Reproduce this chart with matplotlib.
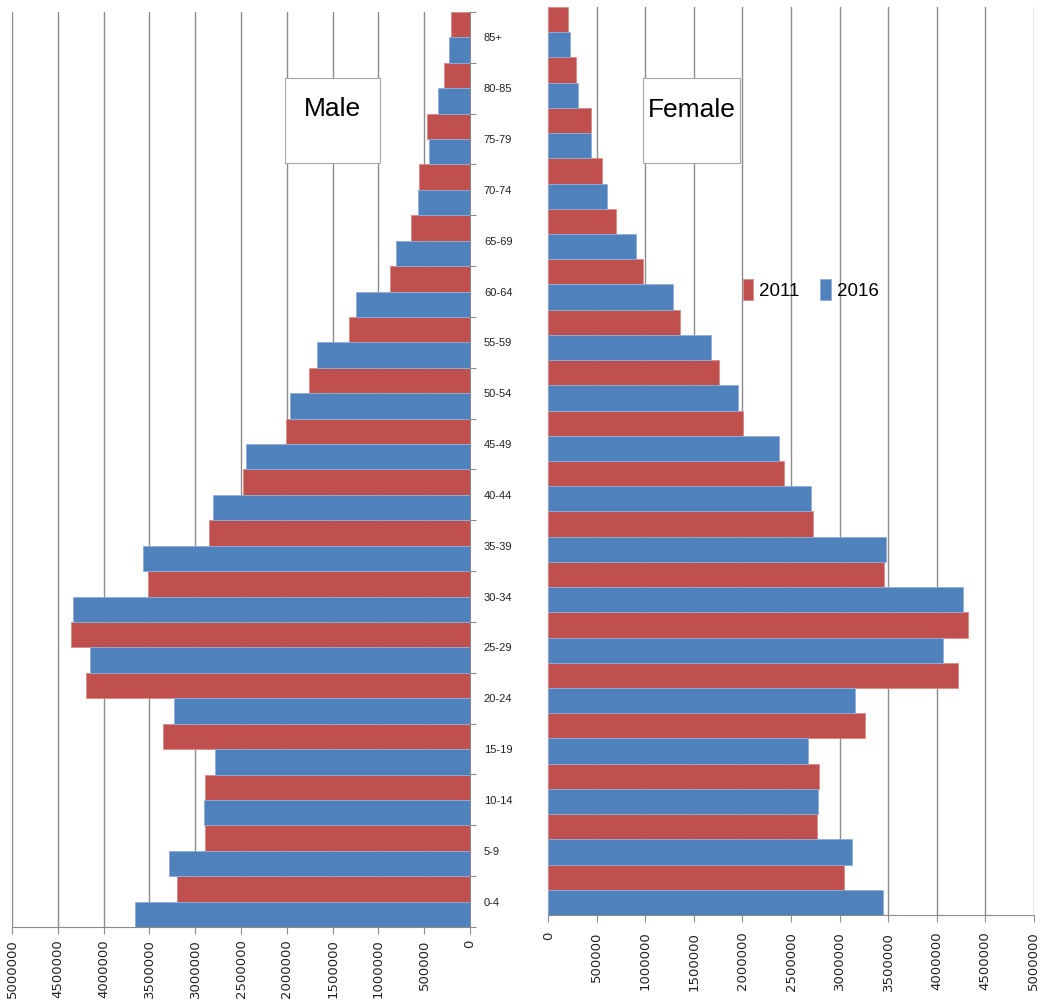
import matplotlib
matplotlib.use('Agg')
import matplotlib.pyplot as plt
from matplotlib.patches import Rectangle
import numpy as np

# age groups, bottom to top
ageGroups = ['0-4', '5-9', '10-14', '15-19', '20-24', '25-29', '30-34', '35-39', '40-44',
             '45-49', '50-54', '55-59', '60-64', '65-69', '70-74', '75-79', '80-85', '85+']

male2011 = [3195000, 2896000, 2889000, 3352000, 4197000, 4353000, 3512000, 2849000, 2478000,
            2009000, 1758000, 1321000, 873000, 644000, 561000, 473000, 288000, 208000]
male2016 = [3654000, 3290000, 2907000, 2783000, 3235000, 4145000, 4335000, 3574000, 2806000,
            2445000, 1965000, 1670000, 1245000, 808000, 568000, 448000, 346000, 233000]
female2011 = [3041000, 2763000, 2788000, 3262000, 4216000, 4324000, 3458000, 2722000, 2423000,
              2010000, 1763000, 1361000, 979000, 701000, 557000, 437000, 282000, 200000]
female2016 = [3451000, 3131000, 2780000, 2680000, 3162000, 4062000, 4268000, 3474000, 2701000,
              2381000, 1959000, 1680000, 1289000, 907000, 608000, 437000, 306000, 221000]

xTicks = list(range(0, 5000001, 500000))

red = '#C0504D'
blue = '#4F81BD'
gridColor = '#8C8C8C'
labelFont = 'Liberation Sans'

W, H = 1043, 1005
fig = plt.figure(figsize=(W / 100, H / 100), dpi=100)

# axes positions from pixel boxes
axM = fig.add_axes([12 / W, 1 - 927 / H, 458 / W, 915 / H])
axF = fig.add_axes([548.3 / W, 1 - 915 / H, 485.4 / W, 908 / H])

y = np.arange(len(ageGroups))

for ax, v2011, v2016 in [(axM, male2011, male2016), (axF, female2011, female2016)]:
    ax.barh(y + 0.25, v2011, height=0.5, color=red, edgecolor='#D88A88', linewidth=0.6,
            label='2011', zorder=3)
    ax.barh(y - 0.25, v2016, height=0.5, color=blue, edgecolor='#8FAEDA', linewidth=0.6,
            label='2016', zorder=3)
    ax.set_ylim(-0.5, len(ageGroups) - 0.5)
    ax.set_xticks(xTicks)
    ax.set_xticklabels([str(t) for t in xTicks], rotation=90, fontsize=9.5,
                       color='#222222', va='top', ha='center')
    ax.grid(axis='x', color=gridColor, linewidth=1, zorder=0)
    ax.set_axisbelow(True)
    ax.tick_params(axis='x', length=5, color=gridColor, pad=4)
    for s in ['top', 'left', 'right']:
        ax.spines[s].set_visible(False)
    ax.spines['bottom'].set_color(gridColor)

# male side: reversed x axis, category axis on the right
axM.set_xlim(5000000, 0)
axM.yaxis.tick_right()
axM.spines['right'].set_visible(True)
axM.spines['right'].set_color(gridColor)
axM.set_yticks(np.arange(-0.5, len(ageGroups), 1.0))
axM.set_yticklabels([])
axM.set_yticks(y, minor=True)
axM.set_yticklabels(ageGroups, minor=True, fontsize=8, family=labelFont, color='#222222')
axM.tick_params(axis='y', which='major', length=4, color=gridColor, direction='out')
axM.tick_params(axis='y', which='minor', length=0, pad=10)

# female side
axF.set_xlim(0, 5000000)
axF.set_yticks([])
axF.spines['left'].set_visible(True)
axF.spines['left'].set_color(gridColor)
axF.tick_params(axis='x', pad=7)

# title boxes
def titleBox(ax, x0, y0, x1, y1, label):
    ax.add_patch(Rectangle((x0, y0), x1 - x0, y1 - y0, transform=ax.transAxes,
                           facecolor='white', edgecolor='#A6A6A6', linewidth=0.8,
                           clip_on=False, zorder=5))
    ax.text((x0 + x1) / 2, (y0 + y1) / 2 + 0.012, label, transform=ax.transAxes,
            ha='center', va='center', fontsize=19, family=labelFont, color='black', zorder=6)

titleBox(axM, 0.596, 0.835, 0.8035, 0.928, 'Male')
titleBox(axF, 0.195, 0.828, 0.395, 0.922, 'Female')

leg = axF.legend(loc='center', bbox_to_anchor=(0.541, 0.689), ncol=2, frameon=False,
                 handlelength=0.55, handleheight=1.3, handletextpad=0.35, columnspacing=1.1,
                 prop={'family': labelFont, 'size': 13.5})

fig.savefig('out.png', dpi=100)
